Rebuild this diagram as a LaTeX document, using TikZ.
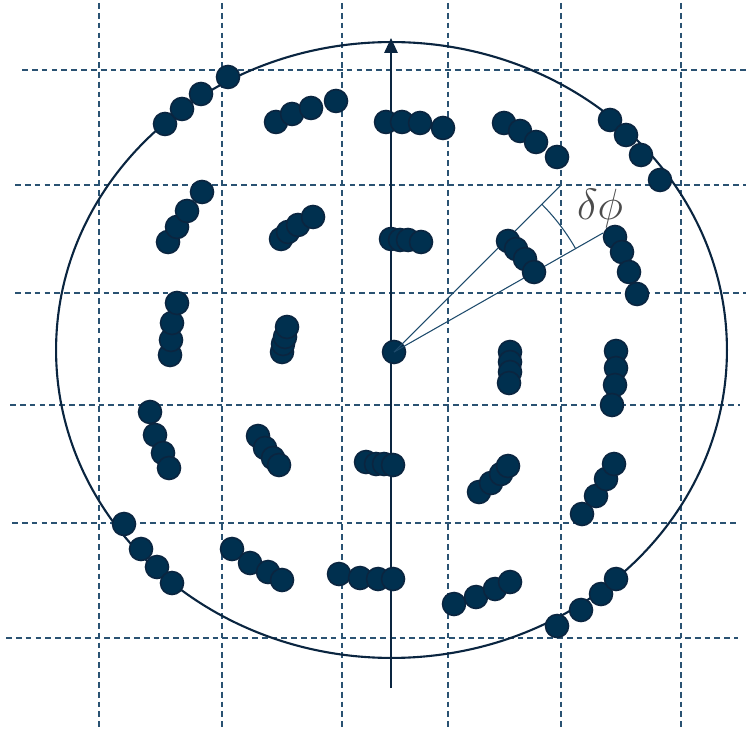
\documentclass[tikz,border=0pt]{standalone}
\usepackage{amsmath}
\usepackage{xcolor}
\usepackage{tikz}
\usetikzlibrary{arrows.meta,calc}
\definecolor{dotblue}{HTML}{00304F}
\definecolor{dotedge}{HTML}{0A2540}
\definecolor{gridblue}{HTML}{2A5272}
\definecolor{rayblue}{HTML}{1D4A6B}
\tikzset{
  grid line/.style={draw=gridblue,line width=0.6pt,dash pattern=on 3.3pt off 2.3pt},
  rim/.style={draw=dotedge,line width=1.2pt},
  axisarrow/.style={-{Triangle[length=8.5pt,width=7.5pt]},line width=1.2pt,draw=dotedge},
  ray/.style={draw=rayblue,line width=0.6pt},
  spot/.style={circle,fill=dotblue,draw=dotedge,line width=0.9pt,minimum size=0.46cm,inner sep=0pt}
}

\begin{document}
\begin{tikzpicture}[x=0.02cm,y=-0.02cm]
  \useasboundingbox (0,0) rectangle (746,732);
  % dashed grid
  \foreach \gx in {99,222,342,448,561,681}
    \draw[grid line] (\gx,3) -- (\gx,729);
  \foreach \gy/\gl/\gr in {70/22/746,185/15/746,293/15/746,405/10/740,523/12/740,638/6/738}
    \draw[grid line] (\gl,\gy) -- (\gr,\gy);
  % aperture and axis
  \draw[rim] (391.5,350) ellipse [x radius=6.71cm,y radius=6.16cm];
  \coordinate (axisbot) at (391,688);
  \coordinate (axistop) at (391,38);
  \draw[axisarrow] (axisbot) -- (axistop);
  % angular step
  \node[spot] (origin) at (394,352) {};
  \coordinate (phiA) at (561,185);
  \coordinate (phiB) at (603,233);
  \draw[ray] (origin.center) -- (phiA);
  \draw[ray] (origin.center) -- (phiB);
  \draw[ray] ($(origin.center)+(45:4.18cm)$) arc[start angle=45,end angle=29.7,radius=4.18cm];
  \node[text=black!70,font=\fontsize{24}{28}\selectfont] (dphi) at (600,209) {$\delta\phi$};
  % spots
  \foreach \px/\py [count=\k] in {
      165/124,182/109,201/94,228/77,
      276/122,292/114,311/108,336/101,
      386/122,402/122,420/123,443/128,
      504/123,520/131,536/142,557/157,
      610/120,626/135,641/155,660/180,
      168/242,177/227,187/211,202/192,
      281/239,288/232,298/225,313/217,
      391/239,400/240,408/240,421/242,
      508/241,516/249,525/259,534/272,
      615/237,622/252,629/272,637/294,
      170/355,171/340,172/323,177/303,
      282/352,283/344,285/337,287/327,
      510/352,510/362,510/372,509/383,
      616/351,616/368,615/385,612/405,
      150/412,155/435,163/453,169/468,
      258/436,265/448,273/458,279/465,
      366/462,376/464,384/464,393/465,
      479/492,491/483,501/474,508/466,
      582/514,596/496,606/479,614/464,
      124/524,141/549,157/567,172/583,
      232/549,250/563,268/572,282/580,
      339/574,360/578,378/579,393/579,
      454/604,476/597,495/589,510/582,
      557/626,581/610,601/594,616/579}
    \node[spot] (s\k) at (\px,\py) {};
\end{tikzpicture}
\end{document}
